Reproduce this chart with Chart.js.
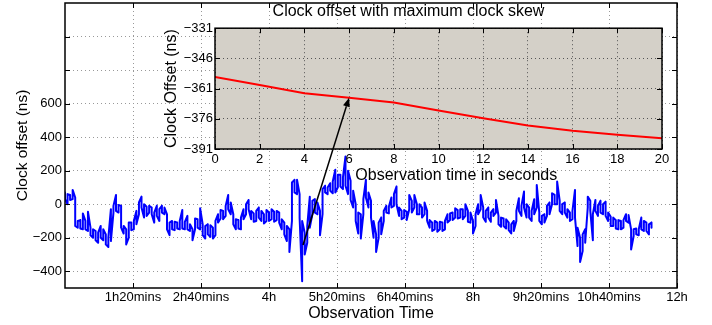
<!DOCTYPE html>
<html>
<head>
<meta charset="utf-8">
<script src="https://cdn.jsdelivr.net/npm/chart.js@4.4.0/dist/chart.umd.min.js"></script>
<style>
body { margin: 0; background: #fff; }
#wrap { position: relative; width: 712px; height: 325px; }
#wrap canvas { position: absolute; left: 0; top: 0; }
</style>
</head>
<body>
<div id="wrap">
<canvas id="main" width="712" height="325"></canvas>
<canvas id="inset" width="712" height="325"></canvas>
</div>
<script>
// main trace: observation time (minutes), with the highest and lowest
// clock offset (ns) seen in each 3 minute slice of the noisy record
const mainMinutes = [
    0, 3, 6, 9, 12, 15, 18, 21, 24, 27,
    30, 33, 36, 39, 42, 45, 48, 51, 54, 57,
    60, 63, 66, 69, 72, 75, 78, 81, 84, 87,
    90, 93, 96, 99, 102, 105, 108, 111, 114, 117,
    120, 123, 126, 129, 132, 135, 138, 141, 144, 147,
    150, 153, 156, 159, 162, 165, 168, 171, 174, 177,
    180, 183, 186, 189, 192, 195, 198, 201, 204, 207,
    210, 213, 216, 219, 222, 225, 228, 231, 234, 237,
    240, 243, 246, 249, 252, 255, 258, 261, 264, 267,
    270, 273, 276, 279, 282, 285, 288, 291, 294, 297,
    300, 303, 306, 309, 312, 315, 318, 321, 324, 327,
    330, 333, 336, 339, 342, 345, 348, 351, 354, 357,
    360, 363, 366, 369, 372, 375, 378, 381, 384, 387,
    390, 393, 396, 399, 402, 405, 408, 411, 414, 417,
    420, 423, 426, 429, 432, 435, 438, 441, 444, 447,
    450, 453, 456, 459, 462, 465, 468, 471, 474, 477,
    480, 483, 486, 489, 492, 495, 498, 501, 504, 507,
    510, 513, 516, 519, 522, 525, 528, 531, 534, 537,
    540, 543, 546, 549, 552, 555, 558, 561, 564, 567,
    570, 573, 576, 579, 582, 585, 588, 591, 594, 597,
    600, 603, 606, 609, 612, 615, 618, 621, 624, 627,
    630, 633, 636, 639, 642, 645, 648, 651, 654, 657,
    660, 663, 666, 669, 672, 675, 678, 681, 684, 687, 690
];
const mainHigh = [
    70, 60, 55, 85, 40, -100, -95, -55, -100, -45,
    -140, -150, -160, -170, -130, -150, -180, -200, -30, -10,
    55, -5, -10, -130, -150, -110, -110, -100, -40, 10,
    45, 0, -15, -10, -20, -50, -10, -30, -10, -20,
    -60, -110, -100, -105, -110, -100, -35, -105, -70, -120,
    -150, -85, -90, -25, -120, -130, -120, -125, -140, -100,
    -60, -35, -40, -10, 55, 10, -60, -90, -95, -80,
    -30, 0, 25, -40, -55, -40, -20, -40, -60, -35,
    -50, -30, -45, -40, -50, -90, -110, -130, -150, 130,
    145, 145, 60, -100, -170, -130, 45, 20, 30, 10,
    -40, 90, 110, 100, 125, 135, 205, 175, 175, 160,
    285, 200, 140, 80, 0, -50, -60, 30, 145, 70,
    20, -100, -180, -110, -80, -40, -10, -15, 40, 60,
    105, -20, -40, -35, -45, 55, 20, 55, 0, 0,
    -20, 10, -40, -95, -110, -100, -110, -105, -110, -100,
    -60, -55, -50, -25, -35, -30, -30, 0, -40, -50,
    -100, -60, 0, 55, -20, -40, -20, -50, -30, 25,
    -70, -80, -85, -90, -110, -120, -100, -40, 35, -10,
    75, 0, -20, -40, 30, 115, -50, -70, -60, -10,
    10, 65, 55, 135, 20, 0, 10, -30, -50, -40,
    85, -140, -200, -180, -150, 45, 20, -60, 25, -10,
    20, 0, 15, -50, -75, -80, -95, -95, -100, -95,
    -60, -65, -150, -150, -145, -150, -80, -100, -110, -120, -110
];
const mainLow = [
    30, 0, 25, 30, -130, -140, -145, -150, -150, -160,
    -185, -200, -215, -230, -200, -215, -240, -255, -220, -50,
    -40, -50, -140, -175, -240, -200, -155, -150, -120, -60,
    -20, -80, -70, -50, -60, -110, -70, -100, -50, -60,
    -150, -185, -150, -155, -145, -150, -145, -150, -150, -160,
    -215, -150, -140, -150, -185, -205, -180, -195, -205, -185,
    -110, -85, -90, -70, -30, -60, -120, -150, -145, -150,
    -90, -60, -30, -90, -105, -100, -80, -100, -115, -100,
    -100, -90, -105, -95, -110, -150, -180, -220, -285, -100,
    70, 60, -80, -460, -300, -230, -140, -60, -50, -60,
    -185, -60, 70, 60, 80, 65, 70, 100, 105, 90,
    110, 60, 25, -20, -100, -175, -205, -60, 40, -20,
    -80, -200, -285, -200, -180, -100, -50, -55, -20, -10,
    0, -70, -90, -80, -95, -30, -50, -20, -60, -60,
    -80, -60, -100, -140, -160, -150, -165, -150, -160, -150,
    -110, -95, -95, -80, -85, -80, -90, -70, -105, -110,
    -175, -130, -60, -30, -80, -105, -80, -105, -70, -50,
    -120, -135, -130, -145, -155, -175, -160, -100, -40, -70,
    -20, -80, -80, -100, -60, -20, -100, -120, -110, -70,
    -60, 0, 0, 0, -40, -60, -50, -80, -100, -90,
    -80, -250, -345, -280, -230, -20, -40, -215, -40, -70,
    -50, -60, -70, -100, -130, -130, -145, -150, -150, -140,
    -100, -110, -270, -190, -180, -185, -150, -160, -160, -180, -140
];
const mainTickMinutes = [80, 160, 240, 320, 400, 480, 560, 640, 720];
const mainTickLabels = ["1h20mins", "2h40mins", "4h", "5h20mins", "6h40mins",
    "8h", "9h20mins", "10h40mins", "12h"];
const mainYTicks = [-400, -200, 0, 200, 400, 600, 800, 1000];
const mainYUnlabelled = [800, 1000];

// inset: first 20 seconds
const insetSeconds = [0, 2, 4, 6, 8, 10, 12, 14, 16, 18, 20];
const insetOffsets = [-355.2, -359.2, -363.3, -365.5, -367.9, -371.9,
    -375.7, -379.3, -381.9, -383.9, -385.7];
const insetYTicks = [-391, -376, -361, -346, -331];

// arrow from the trace to the inset
const arrowFrom = { minutes: 280, ns: -243 };
const arrowTo = { seconds: 6, ns: -365.5 };

Chart.defaults.font.family = "'Liberation Sans', Arial, sans-serif";
Chart.defaults.color = "#000";

const minus = v => String(v).replace("-", "\u2212");

// walk each slice top-to-bottom, then the next bottom-to-top, like a dense trace
const tracePoints = [];
mainMinutes.forEach((m, i) => {
    const pair = [mainHigh[i], mainLow[i]];
    if (i % 2) pair.reverse();
    pair.forEach(v => tracePoints.push({ x: m, y: v }));
});

// MATLAB style frame with inward ticks
const frame = {
    id: "frame",
    beforeDraw(chart, args, opts) {
        if (!opts.fill) return;
        const a = chart.chartArea;
        chart.ctx.save();
        chart.ctx.fillStyle = opts.fill;
        chart.ctx.fillRect(a.left, a.top, a.width, a.height);
        chart.ctx.restore();
    },
    afterDraw(chart) {
        const { ctx, chartArea: a, scales } = chart;
        ctx.save();
        ctx.strokeStyle = "#000";
        ctx.lineWidth = 1;
        ctx.beginPath();
        scales.x.ticks.forEach(t => {
            const x = Math.round(scales.x.getPixelForValue(t.value)) + 0.5;
            ctx.moveTo(x, a.bottom); ctx.lineTo(x, a.bottom - 5);
            ctx.moveTo(x, a.top); ctx.lineTo(x, a.top + 5);
        });
        scales.y.ticks.forEach(t => {
            const y = Math.round(scales.y.getPixelForValue(t.value)) + 0.5;
            ctx.moveTo(a.left, y); ctx.lineTo(a.left + 5, y);
            ctx.moveTo(a.right, y); ctx.lineTo(a.right - 5, y);
        });
        ctx.stroke();
        ctx.lineWidth = 1.5;
        ctx.strokeRect(a.left, a.top, a.width, a.height);
        ctx.restore();
    }
};

const mainChart = new Chart(document.getElementById("main"), {
    type: "line",
    data: {
        datasets: [{
            data: tracePoints,
            borderColor: "#0000ff",
            borderWidth: 2,
            borderJoinStyle: "round",
            pointRadius: 0,
            tension: 0
        }]
    },
    options: {
        responsive: false,
        animation: false,
        layout: { padding: { left: 0, right: 35, top: 3, bottom: 0 } },
        plugins: { legend: { display: false }, tooltip: { enabled: false } },
        scales: {
            x: {
                type: "linear", min: 0, max: 720,
                afterBuildTicks: s => { s.ticks = mainTickMinutes.map(v => ({ value: v })); },
                afterFit: s => { s.height = 37; s.paddingLeft = 0; s.paddingRight = 0; },
                ticks: {
                    autoSkip: false, maxRotation: 0, padding: 2,
                    font: { size: 13 },
                    callback: v => mainTickLabels[mainTickMinutes.indexOf(v)]
                },
                grid: { color: "#999", drawTicks: false },
                border: { display: false, dash: [1, 3] },
                title: { display: true, text: "Observation Time", font: { size: 16 }, padding: { top: 0, bottom: 2 } }
            },
            y: {
                type: "linear", min: -500, max: 1200,
                afterBuildTicks: s => { s.ticks = mainYTicks.map(v => ({ value: v })); },
                afterFit: s => { s.width = 65; s.paddingTop = 0; s.paddingBottom = 0; },
                ticks: {
                    padding: 3, font: { size: 13 },
                    callback: v => mainYUnlabelled.includes(v) ? "" : minus(v)
                },
                grid: { color: "#999", drawTicks: false },
                border: { display: false, dash: [1, 3] },
                title: { display: true, text: "Clock offset (ns)", font: { size: 15.5 }, padding: { top: 13, bottom: 0 } }
            }
        }
    },
    plugins: [frame]
});

const arrow = {
    id: "arrow",
    afterDraw(chart) {
        const { ctx, scales } = chart;
        const x0 = mainChart.scales.x.getPixelForValue(arrowFrom.minutes);
        const y0 = mainChart.scales.y.getPixelForValue(arrowFrom.ns);
        const x1 = scales.x.getPixelForValue(arrowTo.seconds);
        const y1 = scales.y.getPixelForValue(arrowTo.ns);
        const ang = Math.atan2(y1 - y0, x1 - x0);
        const len = 9, half = 3.5;
        ctx.save();
        ctx.strokeStyle = "#000";
        ctx.fillStyle = "#000";
        ctx.lineWidth = 1.5;
        ctx.beginPath();
        ctx.moveTo(x0, y0);
        ctx.lineTo(x1 - len * Math.cos(ang), y1 - len * Math.sin(ang));
        ctx.stroke();
        ctx.beginPath();
        ctx.moveTo(x1, y1);
        ctx.lineTo(x1 - len * Math.cos(ang) + half * Math.sin(ang), y1 - len * Math.sin(ang) - half * Math.cos(ang));
        ctx.lineTo(x1 - len * Math.cos(ang) - half * Math.sin(ang), y1 - len * Math.sin(ang) + half * Math.cos(ang));
        ctx.closePath();
        ctx.fill();
        ctx.restore();
    }
};

new Chart(document.getElementById("inset"), {
    type: "line",
    data: {
        datasets: [{
            data: insetSeconds.map((s, i) => ({ x: s, y: insetOffsets[i] })),
            borderColor: "#ff0000",
            borderWidth: 2,
            pointRadius: 0,
            tension: 0
        }]
    },
    options: {
        responsive: false,
        animation: false,
        layout: { padding: { left: 155, right: 50, top: 0, bottom: 136 } },
        plugins: {
            legend: { display: false },
            tooltip: { enabled: false },
            title: {
                display: true, text: "Clock offset with maximum clock skew",
                font: { size: 16, weight: "normal" }, padding: { top: 2, bottom: 7 }
            },
            frame: { fill: "#d4d0c8" }
        },
        scales: {
            x: {
                type: "linear", min: 0, max: 20,
                afterFit: s => { s.height = 40; s.paddingLeft = 0; s.paddingRight = 0; },
                ticks: { stepSize: 2, autoSkip: false, maxRotation: 0, padding: 3, font: { size: 13 } },
                grid: { color: "#555", drawTicks: false },
                border: { display: false, dash: [1, 3] },
                title: {
                    display: true,
                    text: "\u00a0\u00a0\u00a0\u00a0\u00a0\u00a0\u00a0\u00a0Observation time in seconds",
                    font: { size: 16 }, padding: { top: 0, bottom: 4 }
                }
            },
            y: {
                type: "linear", min: -391, max: -331,
                afterBuildTicks: s => { s.ticks = insetYTicks.map(v => ({ value: v })); },
                afterFit: s => { s.width = 60; s.paddingTop = 0; s.paddingBottom = 0; },
                ticks: { padding: 2, font: { size: 13 }, callback: v => minus(v) },
                grid: { color: "#555", drawTicks: false },
                border: { display: false, dash: [1, 3] },
                title: { display: true, text: "Clock Offset (ns)", font: { size: 16 }, padding: { top: 7, bottom: 0 } }
            }
        }
    },
    plugins: [frame, arrow]
});
</script>
</body>
</html>
